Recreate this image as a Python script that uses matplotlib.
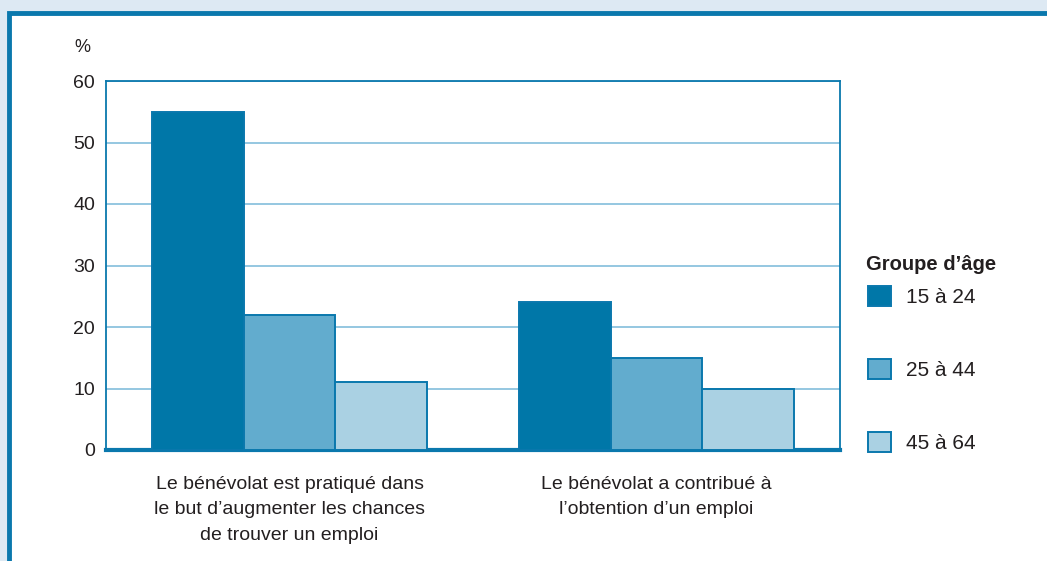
import matplotlib
matplotlib.use("Agg")
import matplotlib.pyplot as plt
from matplotlib.patches import Rectangle
import numpy as np

plt.rcParams['font.family'] = ['Liberation Sans', 'DejaVu Sans']

categories = ["Le bénévolat est pratiqué dans\nle but d\u2019augmenter les chances\nde trouver un emploi",
              "Le bénévolat a contribué à\nl\u2019obtention d\u2019un emploi"]
groups = ["15 à 24", "25 à 44", "45 à 64"]
values_15_24 = [55, 24]
values_25_44 = [22, 15]
values_45_64 = [11, 10]
yticks = [0, 10, 20, 30, 40, 50, 60]

series = [values_15_24, values_25_44, values_45_64]
colors = ["#0077a8", "#62acce", "#aad1e3"]
edge = "#0a78ad"
textc = "#231f20"

W, H = 1047, 561
fig = plt.figure(figsize=(W/100, H/100), dpi=100)
fig.patch.set_facecolor("#dde9f3")

# white panel with blue border
panel = Rectangle((9/W, -0.1), 1.2, 0.1 + (H-13)/H, transform=fig.transFigure,
                  facecolor="white", edgecolor=edge, linewidth=3.5, zorder=-10)
fig.patches.append(panel)

ax = fig.add_axes([106/W, 1-450/H, (840-106)/W, (450-81)/H])
ax.set_zorder(5)
ax.set_facecolor("white")
x = np.arange(len(categories))
width = 0.25
handles = []
for i, (vals, c, lab) in enumerate(zip(series, colors, groups)):
    b = ax.bar(x + (i-1)*width, vals, width, color=c, edgecolor=edge,
               linewidth=1.4, label=lab, zorder=3)
    handles.append(b)

ax.set_xlim(-0.5, 1.5)
ax.set_ylim(0, 60)
ax.set_yticks(yticks)
ax.set_yticklabels([str(t) for t in yticks], fontsize=14, color=textc)
ax.yaxis.grid(True, color="#8cc3de", linewidth=1.3, zorder=0)
ax.set_axisbelow(True)
ax.tick_params(axis='y', length=0, pad=8)
ax.set_xticks(x)
ax.set_xticklabels(categories, fontsize=14, color=textc, linespacing=1.62)
ax.tick_params(axis='x', length=0, pad=19)
for s in ['left', 'top', 'right']:
    ax.spines[s].set_color(edge)
    ax.spines[s].set_linewidth(1.3)
ax.spines['bottom'].set_color(edge)
ax.spines['bottom'].set_linewidth(3)

fig.text(82/W, 1-48/H, "%", fontsize=13, color=textc, ha='center', va='center')

fig.text(866/W, 1-264/H, "Groupe d\u2019âge", fontsize=14.5, fontweight='bold',
         color=textc, ha='left', va='center')
leg = ax.legend(handles=handles, labels=groups,
                loc='upper left', bbox_to_anchor=(868/W, 1-286/H),
                bbox_transform=fig.transFigure, frameon=False,
                borderpad=0, borderaxespad=0,
                fontsize=15, handlelength=1.1, handleheight=1.1,
                labelspacing=2.5, handletextpad=0.7)
for t in leg.get_texts():
    t.set_color(textc)

fig.savefig("out.png", dpi=100, facecolor=fig.get_facecolor())
